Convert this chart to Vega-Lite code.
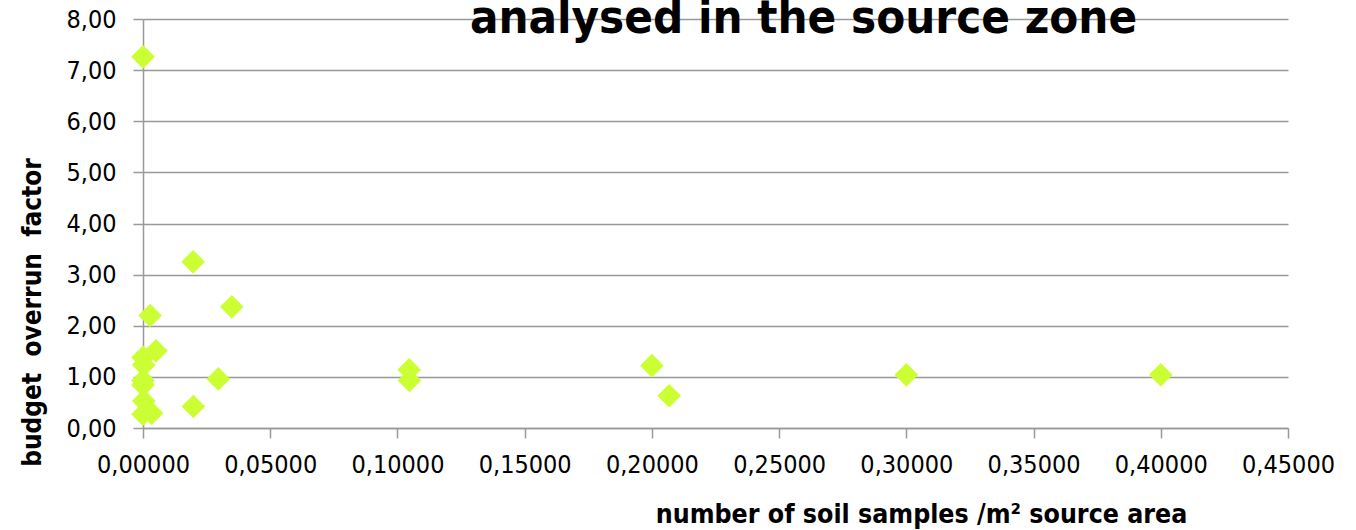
{
  "$schema": "https://vega.github.io/schema/vega-lite/v6.json",
  "autosize": "none",
  "width": 1145,
  "height": 409,
  "padding": {"left": 143, "top": 19, "right": 68, "bottom": 102},
  "background": "white",
  "config": {
    "locale": {"number": {"decimal": ",", "thousands": ".", "grouping": [3], "currency": ["", " €"]}},
    "view": {"stroke": null},
    "font": "DejaVu Sans Condensed"
  },
  "title": {
    "text": "analysed in the source zone",
    "orient": "top",
    "anchor": "middle",
    "frame": "group",
    "font": "DejaVu Sans Condensed",
    "fontSize": 47,
    "fontWeight": "bold",
    "color": "black",
    "baseline": "alphabetic",
    "offset": -73,
    "dx": 88
  },
  "data": {"values": [
    {"x": 0.0, "y": 7.26},
    {"x": 0.0028, "y": 2.2},
    {"x": 0.0349, "y": 2.37},
    {"x": 0.0197, "y": 3.25},
    {"x": 0.0051, "y": 1.51},
    {"x": 0.0, "y": 1.38},
    {"x": 0.0003, "y": 1.23},
    {"x": 0.0, "y": 0.93},
    {"x": 0.0, "y": 0.84},
    {"x": 0.0296, "y": 0.96},
    {"x": 0.0003, "y": 0.53},
    {"x": 0.0198, "y": 0.42},
    {"x": 0.0, "y": 0.27},
    {"x": 0.0034, "y": 0.29},
    {"x": 0.1046, "y": 1.14},
    {"x": 0.1047, "y": 0.93},
    {"x": 0.2, "y": 1.22},
    {"x": 0.2068, "y": 0.63},
    {"x": 0.3, "y": 1.04},
    {"x": 0.4, "y": 1.04}
  ]},
  "mark": {"type": "point", "shape": "diamond", "filled": true, "size": 560, "color": "#CCFF33", "opacity": 1},
  "encoding": {
    "x": {
      "field": "x", "type": "quantitative",
      "scale": {"domain": [0, 0.45], "nice": false, "zero": false},
      "axis": {
        "values": [0, 0.05, 0.1, 0.15, 0.2, 0.25, 0.3, 0.35, 0.4, 0.45],
        "format": ".5f",
        "grid": false,
        "domainColor": "#999999", "domainWidth": 1.5,
        "tickColor": "#999999", "tickWidth": 1.5, "tickSize": 10,
        "labelFont": "DejaVu Sans Condensed", "labelFontSize": 25, "labelColor": "black",
        "labelPadding": 14,
        "labelFlush": false,
        "title": "number of soil samples /m² source area",
        "titleFont": "DejaVu Sans Condensed", "titleFontSize": 26.5, "titleFontWeight": "bold", "titleColor": "black",
        "titleX": 778, "titleY": 94, "titleBaseline": "alphabetic", "titleAnchor": "middle"
      }
    },
    "y": {
      "field": "y", "type": "quantitative",
      "scale": {"domain": [0, 8], "nice": false, "zero": true},
      "axis": {
        "values": [0, 1, 2, 3, 4, 5, 6, 7, 8],
        "format": ".2f",
        "grid": true, "gridColor": "#999999", "gridWidth": 1.5,
        "domainColor": "#999999", "domainWidth": 1.5,
        "tickColor": "#999999", "tickWidth": 1.5, "tickSize": 10,
        "labelFont": "DejaVu Sans Condensed", "labelFontSize": 25, "labelColor": "black",
        "labelPadding": 17,
        "labelFlush": false,
        "title": "budget\u00a0 overrun\u00a0 factor",
        "titleFont": "DejaVu Sans Condensed", "titleFontSize": 26, "titleFontWeight": "bold", "titleColor": "black",
        "titleAngle": 270,
        "titleX": -103, "titleY": 293, "titleBaseline": "alphabetic", "titleAnchor": "middle"
      }
    }
  }
}
